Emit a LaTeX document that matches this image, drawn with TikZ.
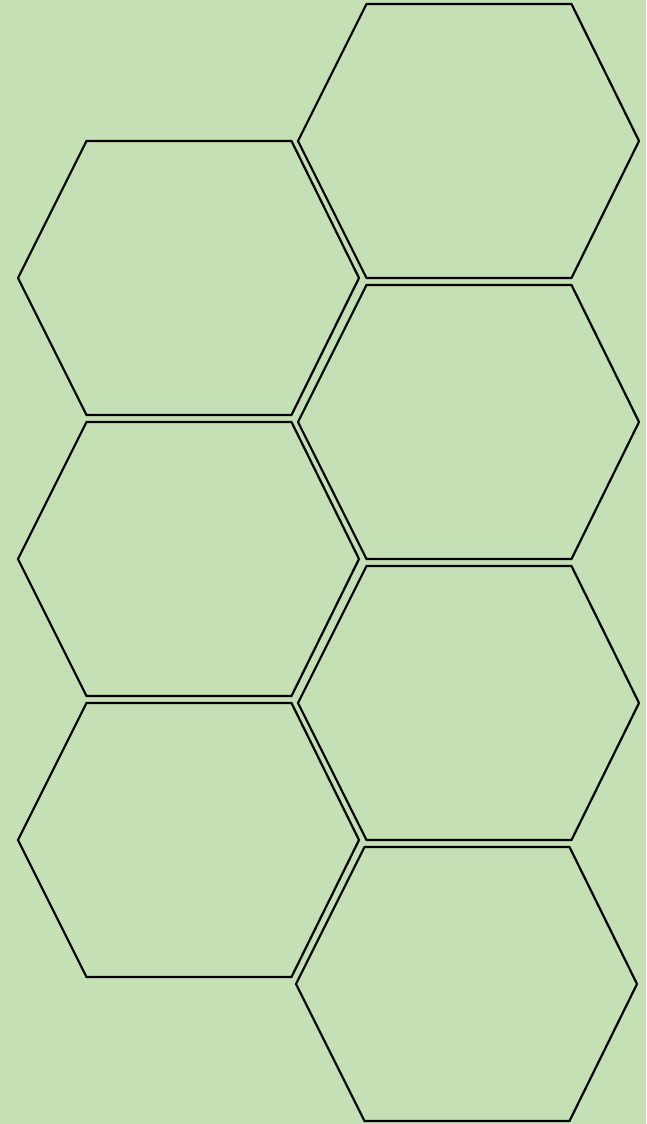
\documentclass[tikz,border=0pt]{standalone}
\usepackage{tikz}
\definecolor{cellbg}{RGB}{197,224,180}
\tikzset{
  hexcell/.style={draw=black, line width=1.25pt, line join=miter},
}
% flat-top hexagon around centre (#1,#2), coordinates in pixels
\newcommand{\hexcellat}[2]{%
  \draw[hexcell] (#1-170.5,#2) -- (#1-102,#2-137) -- (#1+103,#2-137)
    -- (#1+170.5,#2) -- (#1+103,#2+137) -- (#1-102,#2+137) -- cycle;}
\begin{document}
\begin{tikzpicture}[x=0.02cm,y=-0.02cm]
  % background
  \fill[cellbg] (0,0) rectangle (646,1124);
  \useasboundingbox (0,0) rectangle (646,1124);
  % left column
  \foreach \y in {278,559,840} {\hexcellat{188.5}{\y}}
  % right column
  \foreach \y in {141,422,703} {\hexcellat{468.5}{\y}}
  \hexcellat{466.5}{984}
\end{tikzpicture}
\end{document}
